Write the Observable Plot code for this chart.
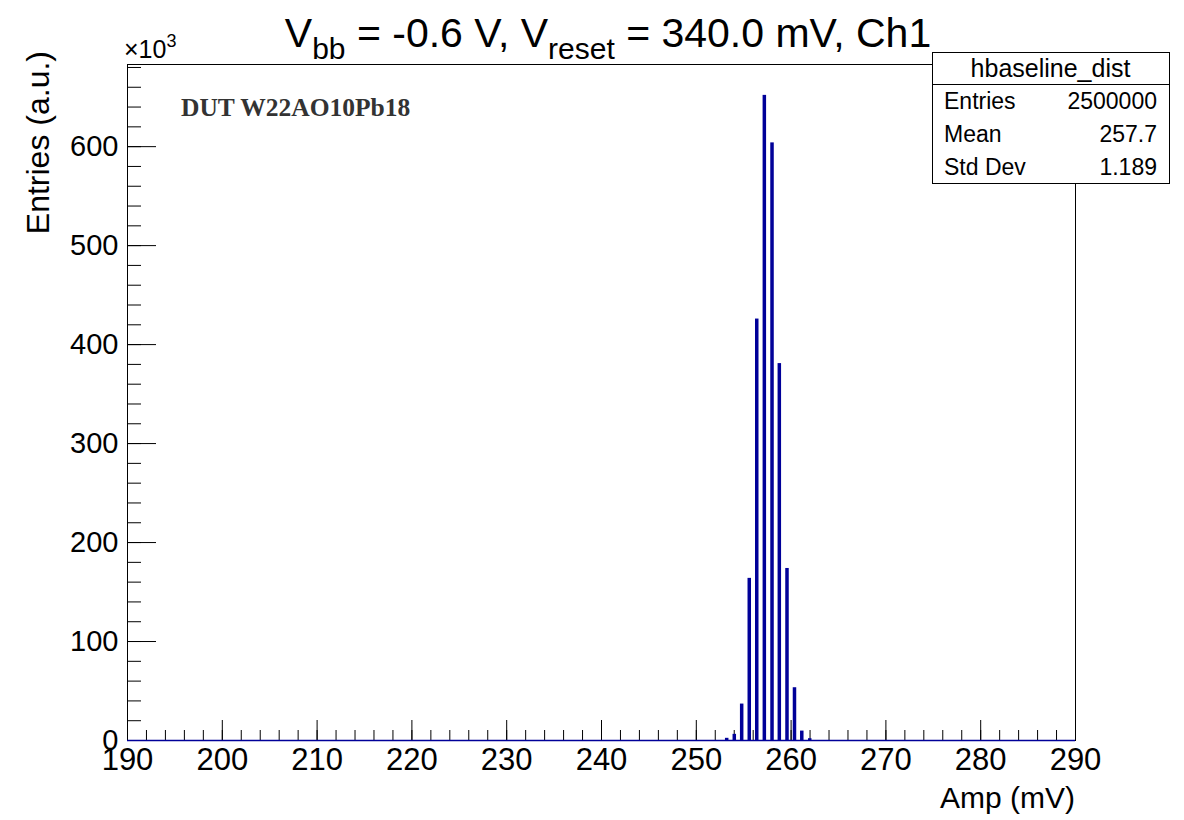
<!DOCTYPE html>
<html>
<head>
<meta charset="utf-8">
<script src="https://cdn.jsdelivr.net/npm/d3@7"></script>
<script src="https://cdn.jsdelivr.net/npm/@observablehq/plot@0.6"></script>
<style>
  html, body { margin: 0; padding: 0; background: #fff; }
  #chart { width: 1184px; height: 820px; }
  svg { font-family: "Liberation Sans", Arial, sans-serif; }
</style>
</head>
<body>
<div id="chart"></div>
<script>
// ---- data ----
const ampCenters = [253.26, 254.06, 254.84, 255.64, 256.43, 257.23, 258.04, 258.81, 259.62, 260.41, 261.18, 262.02]; // mV
const entriesK   = [1.4, 5.4, 36, 163, 425, 651, 603, 380, 173, 52.5, 8.7, 1.0]; // x10^3
const binWidth = 0.2;
const xMajorTicks = [190, 200, 210, 220, 230, 240, 250, 260, 270, 280, 290];
const xMinorTicks = d3.range(190, 290.001, 2);
const yMajorTicks = [0, 100, 200, 300, 400, 500, 600];
const yMinorTicks = d3.range(0, 681, 20);
const titleParts = [["V", "bb", " = -0.6 V, "], ["V", "reset", " = 340.0 mV, Ch1"]];
const statsTitle = "hbaseline_dist";
const statsRows = [["Entries", "2500000"], ["Mean", "257.7"], ["Std Dev", "1.189"]];
const dutLabel = "DUT W22AO10Pb18";
const xLabel = "Amp (mV)";
const yLabel = "Entries (a.u.)";

const bins = ampCenters.map((a, i) => ({amp: a, n: entriesK[i]}));

const W = 1184, H = 820;
const mL = 127, mR = 109, mT = 64, mB = 80;
const fW = W - mL - mR, fH = H - mT - mB;
const navy = "#000099";

const plot = Plot.plot({
  width: W, height: H,
  marginLeft: mL, marginRight: mR, marginTop: mT, marginBottom: mB,
  x: {domain: [190, 290], axis: null},
  y: {domain: [0, 683], axis: null},
  style: {fontFamily: "Liberation Sans, Arial, sans-serif", background: "#fff"},
  marks: [
    Plot.frame({stroke: "#000", strokeWidth: 1}),
    Plot.tickX(xMinorTicks, {x: d => d, insetTop: fH - 10, stroke: "#000", strokeWidth: 1}),
    Plot.tickX(xMajorTicks, {x: d => d, insetTop: fH - 20, stroke: "#000", strokeWidth: 1}),
    Plot.tickY(yMinorTicks, {y: d => d, insetRight: fW - 14, stroke: "#000", strokeWidth: 1}),
    Plot.tickY(yMajorTicks, {y: d => d, insetRight: fW - 29, stroke: "#000", strokeWidth: 1}),
    Plot.rectY(bins, {x1: d => d.amp - binWidth / 2, x2: d => d.amp + binWidth / 2, y: "n",
      fill: navy, stroke: navy, strokeWidth: 1.6}),
    Plot.ruleY([0], {stroke: navy, strokeWidth: 1.5}),
    Plot.text(xMajorTicks, {x: d => d, frameAnchor: "bottom", text: d => String(d),
      lineAnchor: "top", dy: 7, fontSize: 31, fill: "#000"}),
    Plot.text(yMajorTicks, {y: d => d, frameAnchor: "left", text: d => String(d),
      textAnchor: "end", dx: -9, fontSize: 29, fill: "#000"})
  ]
});

document.getElementById("chart").appendChild(plot);
const svg = d3.select(plot);
const g = svg.append("g").attr("text-anchor", "start").attr("fill", "#000");

// Title with subscripts
const title = g.append("text")
  .attr("x", 608).attr("y", 47)
  .attr("text-anchor", "middle")
  .attr("font-size", 41);
titleParts.forEach(([main, sub, rest]) => {
  title.append("tspan").text(main);
  title.append("tspan").attr("font-size", 30).attr("dy", 12).text(sub);
  title.append("tspan").attr("dy", -12).text(rest);
});

// x10^3 multiplier
const mult = g.append("text").attr("x", 124).attr("y", 58).attr("font-size", 25).attr("text-anchor", "start");
mult.append("tspan").text("\u00d710");
mult.append("tspan").attr("font-size", 18).attr("dy", -11).text("3");

// axis titles
g.append("text").attr("x", 1075).attr("y", 808).attr("text-anchor", "end")
  .attr("font-size", 30).text(xLabel);
g.append("text").attr("transform", "translate(49,51) rotate(-90)").attr("text-anchor", "end")
  .attr("font-size", 32).text(yLabel);

// DUT label
g.append("text").attr("x", 181).attr("y", 116).attr("text-anchor", "start")
  .attr("font-family", "Liberation Serif, Times New Roman, serif").attr("font-weight", "bold")
  .attr("font-size", 25.5).attr("fill", "#333").text(dutLabel);

// stats box
const bx = 932, by = 52, bw = 237, bh = 131, hh = 32;
g.append("rect").attr("x", bx + 0.5).attr("y", by + 0.5).attr("width", bw).attr("height", bh)
  .attr("fill", "#fff").attr("stroke", "#000").attr("stroke-width", 1);
g.append("line").attr("x1", bx).attr("x2", bx + bw).attr("y1", by + hh + 0.5).attr("y2", by + hh + 0.5)
  .attr("stroke", "#000").attr("stroke-width", 1);
g.append("text").attr("x", bx + bw / 2).attr("y", by + hh / 2).attr("dy", "0.35em")
  .attr("text-anchor", "middle").attr("font-size", 25).text(statsTitle);
const rowH = (bh - hh) / statsRows.length;
statsRows.forEach(([k, v], i) => {
  const cy = by + hh + rowH * (i + 0.5);
  g.append("text").attr("x", bx + 12).attr("y", cy).attr("dy", "0.35em")
    .attr("text-anchor", "start").attr("font-size", 23).text(k);
  g.append("text").attr("x", bx + bw - 12).attr("y", cy).attr("dy", "0.35em")
    .attr("text-anchor", "end").attr("font-size", 23).text(v);
});
</script>
</body>
</html>
